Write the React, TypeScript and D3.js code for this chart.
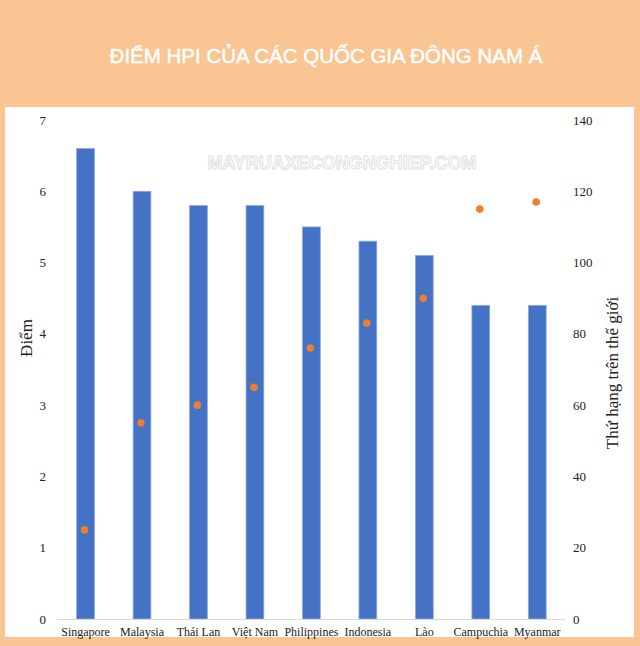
import React from "react";
import * as d3 from "d3";

const countries = ["Singapore", "Malaysia", "Thái Lan", "Việt Nam", "Philippines", "Indonesia", "Lào", "Campuchia", "Myanmar"];
const hpiScores = [6.6, 6.0, 5.8, 5.8, 5.5, 5.3, 5.1, 4.4, 4.4];
const worldRanks = [25, 55, 60, 65, 76, 83, 90, 115, 117];
const leftTicks = [0, 1, 2, 3, 4, 5, 6, 7];
const rightTicks = [0, 20, 40, 60, 80, 100, 120, 140];

const W = 640;
const H = 646;
const serif = "'Liberation Serif', 'Times New Roman', serif";
const sans = "'Liberation Sans', Arial, sans-serif";

export default function App() {
  const x = d3.scaleBand<string>().domain(countries).range([57.3, 565.5]).paddingInner(0.685).paddingOuter(0.3425);
  const yL = d3.scaleLinear().domain([0, 7]).range([619, 120]);
  const yR = d3.scaleLinear().domain([0, 140]).range([619, 120]);
  const bw = x.bandwidth();

  return (
    <svg width={W} height={H} style={{ position: "absolute", left: 0, top: 0 }}>
      <rect x={0} y={0} width={W} height={H} fill="#F9C592" />
      <rect x={5} y={107} width={629} height={530} fill="#ffffff" />
      <text x={326} y={62.5} textAnchor="middle" fill="#ffffff" stroke="#ffffff" strokeWidth={0.5} fontFamily={sans} fontSize={20.5} fontWeight={400}>
        ĐIỂM HPI CỦA CÁC QUỐC GIA ĐÔNG NAM Á
      </text>
      <text x={342} y={169} textAnchor="middle" fill="#ffffff" stroke="#e0e0e0" strokeWidth={1} fontFamily={sans} fontSize={18} fontWeight={700}>
        MAYRUAXECONGNGHIEP.COM
      </text>
      {countries.map((c, i) => (
        <rect key={c} x={x(c)} y={yL(hpiScores[i])} width={bw} height={yL(0) - yL(hpiScores[i])} fill="#4472C4" stroke="#8FAADC" strokeWidth={0.8} />
      ))}
      <line x1={57.3} x2={565.5} y1={619.5} y2={619.5} stroke="#d9d9d9" strokeWidth={1} />
      {countries.map((c, i) => (
        <circle key={c} cx={(x(c) as number) + bw / 2 - 1} cy={yR(worldRanks[i])} r={3.8} fill="#ED7D31" />
      ))}
      {leftTicks.map((t) => (
        <text key={t} x={46} y={yL(t) + 4.5} textAnchor="end" fontFamily={serif} fontSize={13} fill="#222">
          {t}
        </text>
      ))}
      {rightTicks.map((t) => (
        <text key={t} x={573} y={yR(t) + 4.5} textAnchor="start" fontFamily={serif} fontSize={13} fill="#222">
          {t}
        </text>
      ))}
      {countries.map((c) => (
        <text key={c} x={(x(c) as number) + bw / 2} y={636} textAnchor="middle" fontFamily={serif} fontSize={12} fill="#222">
          {c}
        </text>
      ))}
      <text transform="translate(32,338) rotate(-90)" textAnchor="middle" fontFamily={serif} fontSize={17} fill="#222">
        Điểm
      </text>
      <text transform="translate(618,373) rotate(-90)" textAnchor="middle" fontFamily={serif} fontSize={17} fill="#222">
        Thứ hạng trên thế giới
      </text>
    </svg>
  );
}
